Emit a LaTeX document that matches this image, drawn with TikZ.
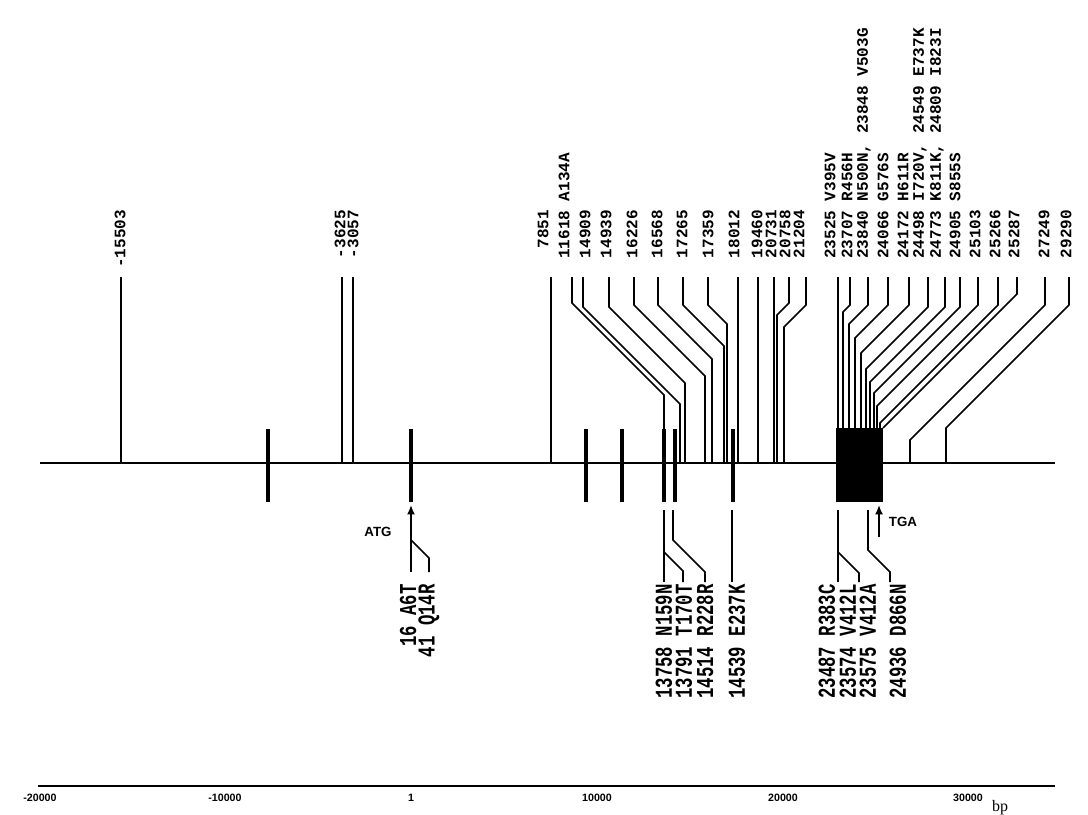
\documentclass[tikz,border=0pt]{standalone}
\usepackage{fontspec}
\usepackage{graphicx}
\setmainfont{Liberation Serif}
\newfontfamily\monofam{Liberation Mono}
\newfontfamily\sansfam{Liberation Sans}
\usetikzlibrary{arrows.meta}
\newcommand\labfont{\monofam\bfseries\fontsize{13}{13}\selectfont}
\newcommand\toplabfont{\monofam\bfseries\fontsize{12}{12}\selectfont}
\newcommand\TL[2]{\llap{#1}#2}
\newcommand\BL[1]{\scalebox{1}[1.4]{#1}}
\begin{document}
\begin{tikzpicture}[x=0.75pt,y=-0.75pt,
  lead/.style={line width=1.3pt},
  mainline/.style={line width=2pt},
  exon/.style={line width=3.2pt},
  toplab/.style={rotate=90,anchor=west,inner sep=0pt,font=\toplabfont},
  botlab/.style={rotate=90,anchor=east,inner sep=0pt,font=\labfont},
  codon/.style={inner sep=0pt,font=\sansfam\bfseries\fontsize{10}{10}\selectfont},
  axlab/.style={inner sep=0pt,font=\sansfam\bfseries\fontsize{8}{8}\selectfont},
  arr/.style={line width=1.3pt,-{Latex[length=7pt,width=6pt]}}]
\useasboundingbox (0,0) rectangle (1088,814);
% top labels
\node[toplab] (n01) at (120,211) {\TL{-15503}{}};
\node[toplab] (n02) at (340,211) {\TL{-3625}{}};
\node[toplab] (n03) at (353,211) {\TL{-3057}{}};
\node[toplab] (n04) at (543,211) {\TL{7851}{}};
\node[toplab] (n05) at (564,211) {\TL{11618}{ A134A}};
\node[toplab] (n06) at (585,211) {\TL{14909}{}};
\node[toplab] (n07) at (606,211) {\TL{14939}{}};
\node[toplab] (n08) at (632,211) {\TL{16226}{}};
\node[toplab] (n09) at (657,211) {\TL{16568}{}};
\node[toplab] (n10) at (682,211) {\TL{17265}{}};
\node[toplab] (n11) at (708,211) {\TL{17359}{}};
\node[toplab] (n12) at (734,211) {\TL{18012}{}};
\node[toplab] (n13) at (757,211) {\TL{19460}{}};
\node[toplab] (n14) at (771,211) {\TL{20731}{}};
\node[toplab] (n15) at (785,211) {\TL{20758}{}};
\node[toplab] (n16) at (799,211) {\TL{21204}{}};
\node[toplab] (n17) at (830,211) {\TL{23525}{ V395V}};
\node[toplab] (n18) at (847,211) {\TL{23707}{ R456H}};
\node[toplab] (n19) at (864,211) {\TL{23840}{ N500N, 23848 V503G}};
\node[toplab] (n20) at (883,211) {\TL{24066}{ G576S}};
\node[toplab] (n21) at (903,211) {\TL{24172}{ H611R}};
\node[toplab] (n22) at (920,211) {\TL{24498}{ I720V, 24549 E737K}};
\node[toplab] (n23) at (937,211) {\TL{24773}{ K811K, 24809 I823I}};
\node[toplab] (n24) at (955,211) {\TL{24905}{ S855S}};
\node[toplab] (n25) at (975,211) {\TL{25103}{}};
\node[toplab] (n26) at (995,211) {\TL{25266}{}};
\node[toplab] (n27) at (1014,211) {\TL{25287}{}};
\node[toplab] (n28) at (1044,211) {\TL{27249}{}};
\node[toplab] (n29) at (1066,211) {\TL{29290}{}};
% top leads
\foreach \i/\lx/\by/\ex/\ey/\fy in {
 01/121/300/121/300/463, 02/342/300/342/300/463, 03/353/300/353/300/463,
 04/551/300/551/300/463, 05/572/303/664/395/463, 06/583/307/680/404/463,
 07/609/307/685/383/463, 08/634/305/705/376/463, 09/658/305/712/359/463,
 10/683/305/724/346/463, 11/708/305/727/324/463, 12/738/300/738/300/463,
 13/758/300/758/300/463, 14/774/300/774/300/463, 15/789/303/777/315/463,
 16/806/305/784/327/463, 17/838/300/838/300/428, 18/850/305/843/312/428,
 19/868/305/849/324/428, 20/888/305/855/338/428, 21/909/305/861/353/428,
 22/928/307/866/369/428, 23/945/307/870/382/428, 24/960/307/874/393/428,
 25/978/305/877/406/428, 26/998/305/880/423/428, 27/1017/294/883/428/428,
 28/1045/305/910/440/463, 29/1069/305/946/428/463}{
 \coordinate (a\i) at (\lx,277);
 \coordinate (b\i) at (\ex,\fy);
 \draw[lead] (a\i) -- (\lx,\by) -- (\ex,\ey) -- (b\i);
}
% main line, exons, coding block
\coordinate (ml) at (40,463);
\coordinate (mr) at (1055,463);
\draw[mainline] (ml) -- (mr);
\foreach \x in {268,411,586,622,664,675,733}{\draw[exon] (\x,429) -- (\x,502);}
\fill (836,428) rectangle (883,502);
% start / stop codons
\draw[arr] (411,530) -- (411,505);
\node[codon] (atg) at (378,532) {ATG};
\draw[arr] (879,537) -- (879,505);
\node[codon] (tga) at (903,522) {TGA};
% bottom labels
\node[botlab] (m01) at (408,584) {\BL{16 A6T}};
\node[botlab] (m02) at (429,584) {\BL{41 Q14R}};
\node[botlab] (m03) at (664,584) {\BL{13758 N159N}};
\node[botlab] (m04) at (684,584) {\BL{13791 T170T}};
\node[botlab] (m05) at (705,584) {\BL{14514 R228R}};
\node[botlab] (m06) at (737,584) {\BL{14539 E237K}};
\node[botlab] (m07) at (827,584) {\BL{23487 R383C}};
\node[botlab] (m08) at (848,584) {\BL{23574 V412L}};
\node[botlab] (m09) at (868,584) {\BL{23575 V412A}};
\node[botlab] (m10) at (898,584) {\BL{24936 D866N}};
% bottom leads
\draw[lead] (411,512) -- (411,572);
\draw[lead] (411,540) -- (429,558) -- (429,572);
\draw[lead] (664,510) -- (664,582);
\draw[lead] (664,552) -- (683,571) -- (683,582);
\draw[lead] (673,510) -- (673,540) -- (705,572) -- (705,582);
\draw[lead] (732,510) -- (732,582);
\draw[lead] (838,510) -- (838,582);
\draw[lead] (838,552) -- (859,573) -- (859,582);
\draw[lead] (868,510) -- (868,550) -- (890,572) -- (890,582);
% scale axis
\coordinate (sl) at (38,786);
\coordinate (sr) at (1055,786);
\draw[line width=1.2pt] (sl) -- (sr);
\node[axlab] (s1) at (40,798) {-20000};
\node[axlab] (s2) at (225,798) {-10000};
\node[axlab] (s3) at (411,798) {1};
\node[axlab] (s4) at (597,798) {10000};
\node[axlab] (s5) at (783,798) {20000};
\node[axlab] (s6) at (968,798) {30000};
\node[inner sep=0pt,font=\fontsize{12}{12}\selectfont] (bp) at (1000,808) {bp};
\end{tikzpicture}
\end{document}
